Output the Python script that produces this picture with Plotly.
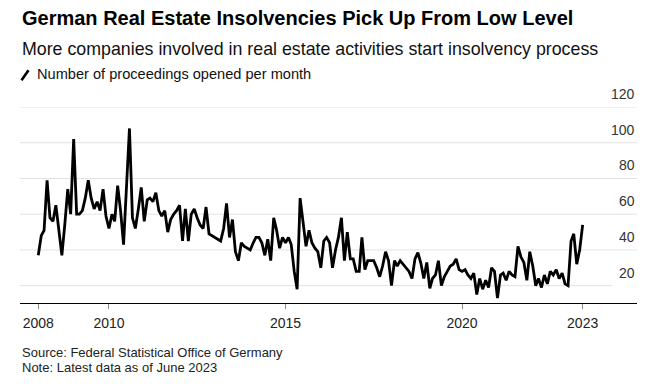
import plotly.graph_objects as go
import pandas as pd

# ---------------- data ----------------
start_month = "2008-01-01"
proceedings = [
    37, 48, 51, 79, 58, 56, 65, 52, 37, 54, 74, 60,      # 2008
    102, 60, 60, 62, 69, 79, 69, 63, 67, 62, 74, 59,     # 2009
    52, 60, 56, 76, 62, 43, 75, 108, 58, 52, 63, 75,     # 2010
    56, 68, 69, 67, 72, 62, 59, 62, 50, 57, 60, 62,      # 2011
    65, 45, 63, 45, 60, 63, 58, 54, 52, 64, 49, 48,      # 2012
    47, 46, 45, 52, 66, 47, 57, 39, 34, 44, 42, 41,      # 2013
    40, 44, 47, 47, 44, 37, 46, 34, 58, 51, 41, 47,      # 2014
    44, 47, 43, 28, 18, 69, 55, 42, 51, 44, 41, 39,      # 2015
    30, 45, 47, 44, 30, 40, 47, 58, 34, 50, 35, 35,      # 2016
    28, 28, 47, 29, 34, 34, 34, 30, 25, 31, 39, 34,      # 2017
    20, 34, 31, 34, 32, 30, 28, 24, 35, 38.5, 32.5, 24,  # 2018
    33, 18.5, 24, 26, 34, 20, 25, 28, 31, 32, 35, 29,    # 2019
    28, 29, 26, 24, 27, 15, 24, 18, 23, 19, 30, 28,      # 2020
    13, 26, 27, 23, 28, 26, 25, 42, 36, 33, 23, 39,      # 2021
    31, 20, 24, 19, 26, 21, 28, 26, 29, 24, 27, 21,      # 2022
    20, 45, 49, 32, 40, 54,                              # 2023 (to June)
]
months = pd.date_range(start_month, periods=len(proceedings), freq="MS")

x_tick_dates = ["2008-01-01", "2010-01-01", "2015-01-01", "2020-01-01", "2023-06-01"]
x_tick_labels = ["2008", "2010", "2015", "2020", "2023"]
y_grid_values = [20, 40, 60, 80, 100, 120]
y_tick_labels = ["20", "40", "60", "80", "100", "120"]

title_text = "German Real Estate Insolvencies Pick Up From Low Level"
subtitle_text = "More companies involved in real estate activities start insolvency process"
legend_text = "Number of proceedings opened per month"
source_text = "Source: Federal Statistical Office of Germany"
note_text = "Note: Latest data as of June 2023"

# ---------------- geometry (page pixels) ----------------
W, H = 665, 391
OFF = 8  # the html body margin pushes the figure 8px right/down
L, R, T, B = 20, 637, 106.7, 303
FONT = "Liberation Sans, Arial, sans-serif"


def px_x(px):
    return (px - L) / (R - L)


def px_y(py):
    return (B - py) / (B - T)


fig = go.Figure()
fig.add_trace(go.Scatter(
    x=months, y=proceedings, mode="lines",
    line=dict(color="#000000", width=2.8),
    hoverinfo="x+y", showlegend=False,
))

shapes = []
for v in y_grid_values:
    x1 = px_x(612) if v == y_grid_values[0] else 1
    shapes.append(dict(type="line", xref="paper", yref="y", x0=0, x1=x1, y0=v, y1=v,
                       line=dict(color="#e2e2e2", width=1), layer="below"))
# legend slash icon
shapes.append(dict(type="line", xref="paper", yref="paper",
                   x0=px_x(21.5), y0=px_y(80), x1=px_x(28.5), y1=px_y(70),
                   line=dict(color="#000000", width=2.6)))

annotations = []
for v, t in zip(y_grid_values, y_tick_labels):
    annotations.append(dict(x=1, xref="paper", y=v, yref="y", text=t, showarrow=False,
                            xanchor="right", yanchor="bottom", yshift=3,
                            font=dict(family=FONT, size=14, color="#333333")))


def text_ann(txt, py, size, bold=False, color="#000000", px=L):
    return dict(x=px_x(px), xref="paper", y=px_y(py), yref="paper",
                text=f"<b>{txt}</b>" if bold else txt, showarrow=False,
                xanchor="left", yanchor="middle",
                font=dict(family=FONT, size=size, color=color))


annotations.append(text_ann(title_text, 18, 20, bold=True))
annotations.append(text_ann(subtitle_text, 49, 17.8, color="#111111"))
annotations.append(text_ann(legend_text, 74, 14.6, color="#111111", px=35))
annotations.append(text_ann(source_text, 353, 13, color="#222222"))
annotations.append(text_ann(note_text, 368, 13, color="#222222"))

fig.update_layout(
    width=W, height=H,
    margin=dict(l=L - OFF, r=W - (R - OFF), t=T - OFF, b=H - (B - OFF), pad=0),
    paper_bgcolor="#ffffff", plot_bgcolor="#ffffff",
    showlegend=False,
    shapes=shapes, annotations=annotations,
    xaxis=dict(
        type="date", range=["2007-06-26", "2024-12-14"],
        tickvals=x_tick_dates, ticktext=x_tick_labels,
        showgrid=False, zeroline=False,
        showline=True, linecolor="#000000", linewidth=1,
        ticks="outside", ticklen=5, tickcolor="#8a8a8a", tickwidth=1,
        tickfont=dict(family=FONT, size=14, color="#222222"),
        ticklabelstandoff=2,
        fixedrange=True,
    ),
    yaxis=dict(
        range=[10.3, 120], showgrid=False, zeroline=False,
        showticklabels=False, showline=False, fixedrange=True,
    ),
)

fig.write_html("out.html")
